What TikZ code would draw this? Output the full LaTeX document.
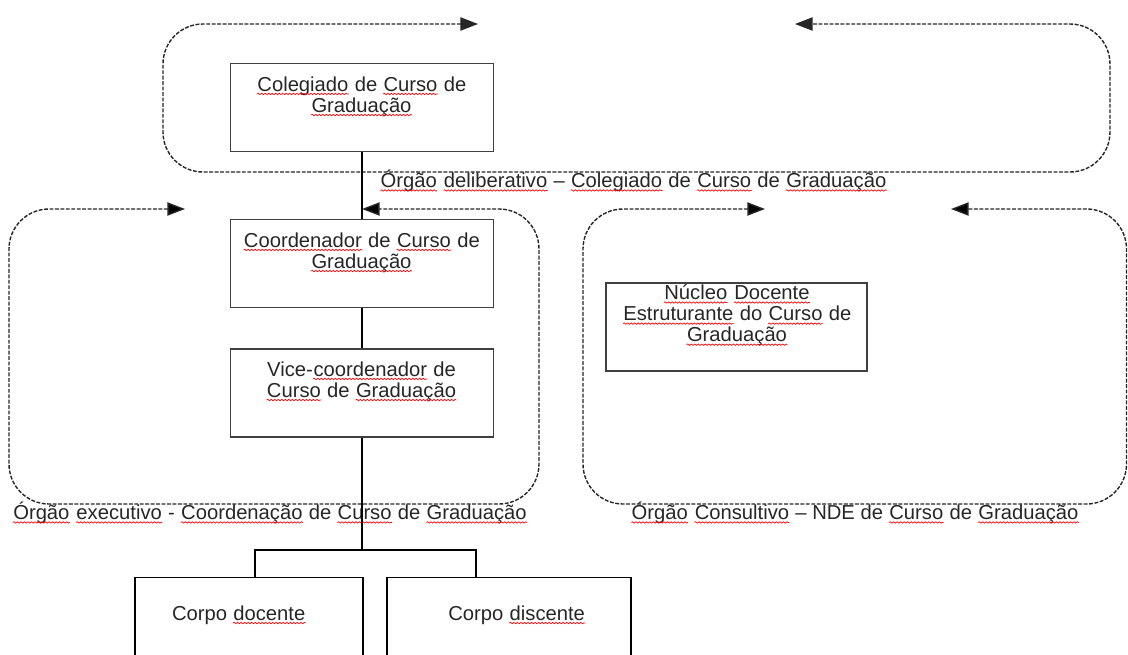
\documentclass[tikz,border=0pt]{standalone}
\usepackage{fontspec}
\setmainfont{Liberation Sans}
\usetikzlibrary{arrows.meta,positioning,decorations.pathmorphing}
% sublinhado ondulado vermelho
\newcommand\sq[1]{\tikz[baseline=(w.base)]{\node[inner sep=0pt, anchor=base] (w) {#1};\draw[red, line width=0.4pt, decorate, decoration={snake, amplitude=0.4pt, segment length=2pt}] ([yshift=-1.6pt]w.base west) -- ([yshift=-1.6pt]w.base east);}}

\begin{document}
\begin{tikzpicture}[
        orgao/.style={draw=black!75, line width=0.6pt, minimum width=5.26cm, minimum height=1.76cm, inner sep=0pt},
        corpo/.style={draw=black, line width=0.7pt, minimum height=2cm, inner sep=0pt, anchor=north},
        texto/.style={font=\fontsize{11.5}{12}\selectfont, align=center, inner sep=0pt, text=black!85},
        moldura/.style={draw=black!85, line width=0.8pt, dash pattern=on 2.2pt off 0.9pt, rounded corners=0.8cm, >={Triangle[length=10pt,width=7.5pt]}, <->},
        ligacao/.style={draw=black, line width=0.7pt}
    ]
        \clip (0,0) rectangle (22.56,-13.1);
        % === Órgão deliberativo ===
        \draw[moldura] (9.56,-0.48) -- (3.26,-0.48) -- (3.26,-3.44) -- (22.2,-3.44) -- (22.2,-0.48) -- (15.9,-0.48);
        \node[orgao] (colegiado) at (7.24,-2.15) {};
        \node[texto] (colegiadotxt) at (7.23,-1.93) {\sq{Colegiado} de \sq{Curso} de\\\sq{Graduação}};
        \node[texto] (deliberativo) at (12.67,-3.62) {\sq{Órgão} \sq{deliberativo} – \sq{Colegiado} de \sq{Curso} de \sq{Graduação}};
        % === Órgão executivo ===
        \draw[moldura] (3.7,-4.18) -- (0.18,-4.18) -- (0.18,-10.08) -- (10.78,-10.08) -- (10.78,-4.18) -- (7.24,-4.18);
        \node[orgao] (coordenador) at (7.24,-5.27) {};
        \node[texto] (coordenadortxt) at (7.23,-5.05) {\sq{Coordenador} de \sq{Curso} de\\\sq{Graduação}};
        \node[orgao] (vice) at (7.24,-7.86) {};
        \node[texto] (vicetxt) at (7.23,-7.63) {Vice-\sq{coordenador} de\\\sq{Curso} de \sq{Graduação}};
        \node[texto] (executivo) at (5.4,-10.26) {\sq{Órgão} \sq{executivo} - \sq{Coordenação} de \sq{Curso} de \sq{Graduação}};
        % === Órgão consultivo ===
        \draw[moldura] (15.3,-4.18) -- (11.66,-4.18) -- (11.66,-10.08) -- (22.53,-10.08) -- (22.53,-4.18) -- (19.02,-4.18);
        \node[orgao, minimum width=5.22cm] (nde) at (14.73,-6.54) {};
        \node[texto] (ndetxt) at (14.74,-6.31) {\sq{Núcleo} \sq{Docente}\\\sq{Estruturante} do \sq{Curso} de\\\sq{Graduação}};
        \node[texto] (consultivo) at (17.1,-10.26) {\sq{Órgão} \sq{Consultivo} – NDE de \sq{Curso} de \sq{Graduação}};
        % === Corpo docente / discente ===
        \node[corpo, minimum width=4.56cm] (docente) at (4.98,-11.54) {};
        \node[texto] (docentetxt) at (4.78,-12.3) {Corpo \sq{docente}};
        \node[corpo, minimum width=4.88cm] (discente) at (10.18,-11.54) {};
        \node[texto] (discentetxt) at (10.34,-12.3) {Corpo \sq{discente}};
        \coordinate (ramo) at (7.24,-11.0);
        % Ligações
        \draw[ligacao] (colegiado) -- (coordenador);
        \draw[ligacao] (coordenador) -- (vice);
        \draw[ligacao] (vice) -- (ramo);
        \draw[ligacao] ([xshift=0.12cm]docente.north) |- (ramo) -| ([xshift=-0.66cm]discente.north);
    \end{tikzpicture}
\end{document}
